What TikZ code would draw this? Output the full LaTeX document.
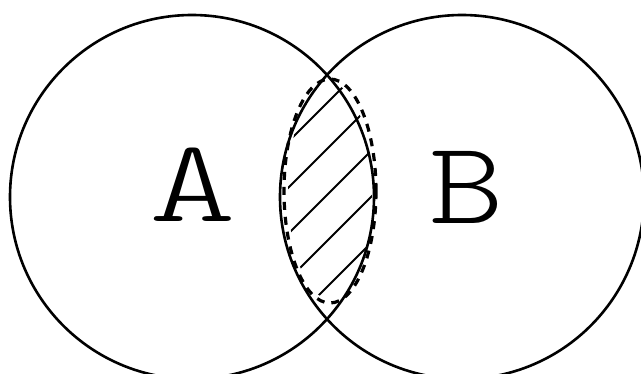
\documentclass[tikz,border=0pt]{standalone}
\usepackage{fontspec}
\newfontfamily\vennfont{Latin Modern Mono Light}
\tikzset{vennlabel/.style={font=\vennfont\fontsize{118}{118}\selectfont,xscale=1.4,transform shape}}
\begin{document}
\begin{tikzpicture}[x=1pt,y=1pt]
\useasboundingbox(0,0)rectangle(641,373);
\coordinate(ca)at(192,176);\coordinate(cb)at(462,176);\coordinate(cl)at(330,182);
\draw[line width=2.6pt](ca)circle[radius=182pt];
\draw[line width=2.6pt](cb)circle[radius=182pt];
\begin{scope}
\clip(cl)ellipse[x radius=42pt,y radius=108pt];
\foreach \c in {430,476,...,614}\draw[line width=2pt](250,{623-\c})--++(180,180);
\end{scope}
\draw[line width=3.2pt,dash pattern=on 8pt off 7pt](cl)ellipse[x radius=46pt,y radius=112pt];
\node[vennlabel](A)at(193,188){A};
\node[vennlabel,xscale=0.86](B)at(467,185.5){B};
\end{tikzpicture}
\end{document}
